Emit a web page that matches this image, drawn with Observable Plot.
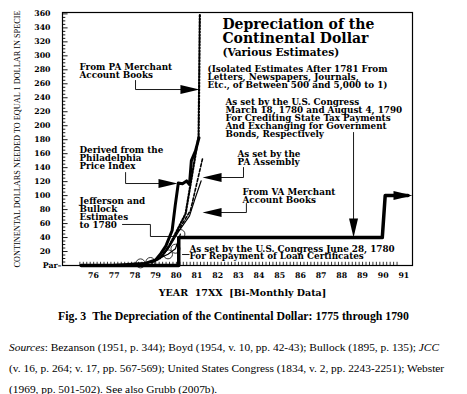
<!DOCTYPE html>
<html><head><meta charset="utf-8">
<script src="https://cdn.jsdelivr.net/npm/d3@7"></script>
<script src="https://cdn.jsdelivr.net/npm/@observablehq/plot@0.6"></script>
<style>
body{margin:0;background:#fff;width:467px;}
#chart svg{display:block;}
#cap{font:bold 11.8px "Liberation Serif";text-align:center;margin-top:9px;line-height:14px;white-space:nowrap;}
#src{font:11.4px "Liberation Serif";line-height:21px;margin:14px 0 0 9px;white-space:nowrap;}
</style></head><body>
<div id="chart"></div>
<div id="cap">Fig. 3&nbsp;&nbsp;The Depreciation of the Continental Dollar: 1775 through 1790</div>
<div id="src"><i>Sources</i>: Bezanson (1951, p. 344); Boyd (1954, v. 10, pp. 42-43); Bullock (1895, p. 135); <i>JCC</i><br>(v. 16, p. 264; v. 17, pp. 567-569); United States Congress (1834, v. 2, pp. 2243-2251); Webster<br>(1969, pp. 501-502). See also Grubb (2007b).</div>
<script>
// ---- data (year, continental dollars per 1 dollar specie) ----
const congressYear = [1775.4, 1780.12, 1780.12, 1789.96, 1790.1, 1791.2];
const congressValue = [0, 0, 40, 40, 100, 100];

const philaYear = [1776.9, 1777.5, 1778.0, 1778.5, 1779.0, 1779.25, 1779.5, 1779.8, 1779.95, 1780.1, 1780.3, 1780.5, 1780.64, 1780.73, 1780.93, 1781.1];
const philaValue = [0, 1, 2, 3, 8, 17, 28, 50, 86, 118, 117, 121, 116, 150, 164, 183];

const paMerchYear = [1778.8, 1779.2, 1779.6, 1780.0, 1780.45, 1781.08, 1781.14];
const paMerchValue = [4, 10, 25, 48, 74, 185, 360];

const paAssemblyYear = [1779.4, 1779.8, 1780.2, 1780.69, 1781.27];
const paAssemblyValue = [18, 35, 55, 79, 153];

const vaMerchYear = [1779.3, 1779.7, 1780.1, 1780.64, 1780.9, 1781.2];
const vaMerchValue = [12, 28, 48, 71, 95, 121];

const jeffYear = [1777.0, 1777.6, 1778.27, 1778.75, 1779.3, 1779.6, 1779.96, 1780.2];
const jeffValue = [0.5, 1, 3, 5, 12, 16, 24, 45];
const jeffCircleYear = [1778.27, 1778.75, 1779.6, 1779.96, 1780.2];
const jeffCircleValue = [3, 5, 16, 24, 45];

// tick labels
const yTickValues = [20, 40, 60, 80, 100, 120, 140, 160, 180, 200, 220, 240, 260, 280, 300, 320, 340, 360];
const xTickYears = [1776, 1777, 1778, 1779, 1780, 1781, 1782, 1783, 1784, 1785, 1786, 1787, 1788, 1789, 1790, 1791];
const xTickLabels = ["76", "77", "78", "79", "80", "81", "82", "83", "84", "85", "86", "87", "88", "89", "90", "91"];

// annotations
const annText = [
  "From PA Merchant\nAccount Books",
  "Derived from the\nPhiladelphia\nPrice Index",
  "Jefferson and\nBullock\nEstimates\nto 1780",
  "As set by the\nPA Assembly",
  "From VA Merchant\nAccount Books",
  "(Isolated Estimates After 1781 From\nLetters, Newspapers, Journals,\nEtc., of Between 500 and 5,000 to 1)",
  "As set by the U.S. Congress\nMarch 18, 1780 and August 4, 1790\nFor Crediting State Tax Payments\nAnd Exchanging for Government\nBonds, Respectively"
];
const annYear = [1775.32, 1775.32, 1775.32, 1782.96, 1783.20, 1781.51, 1782.38];
const annValue = [279, 160.2, 87.3, 154.5, 100.1, 276.1, 228.9];

const congressNoteText = ["As set by the U.S. Congress June 28, 1780", "For Repayment of Loan Certificates"];
const congressNoteYear = [1780.64, 1780.64];
const congressNoteValue = [20, 10];

const titleText = ["Depreciation of the\nContinental Dollar", "(Various Estimates)"];
const titleYear = [1782.23, 1782.23];
const titleValue = [339, 300.4];

// connectors
const connId = ["A","A","A","B","B","B","C","C","C","C","D","D","D","E","E","E","H","H","I","I"];
const connYear = [1778.03,1778.03,1781.0, 1777.55,1777.55,1779.9, 1777.40,1778.75,1778.75,1779.82, 1783.25,1783.25,1781.5, 1783.39,1783.39,1781.5, 1788.57,1788.57, 1780.30,1780.62];
const connValue = [264.7,251.8,251.8, 133,117.3,117.3, 58.7,58.7,41.5,41.5, 140.2,125.9,125.9, 88.7,75.8,75.8, 190.3,45, 15.7,15.7];

// arrowheads (tip location, direction in degrees)
const arrowYear = [1781.12, 1780.06, 1781.27, 1781.27, 1788.57, 1791.42];
const arrowValue = [251.8, 117.3, 125.9, 75.8, 40, 100];
const arrowAngle = [0, 0, 180, 180, 90, 0];

// ---- build ----
const toRows = (xs, ys) => xs.map((x, i) => ({x, y: ys[i]}));
const head = {draw(ctx) { ctx.moveTo(0, 0); ctx.lineTo(-19, -4.5); ctx.lineTo(-19, 4.5); ctx.closePath(); }};
const fs = 8.8;
const bimonthly = d3.range(1775.34, 1790.8, 1/6);
const minorY = d3.range(5, 361, 5);

const xMin = 1774.5, xMax = 1791.42;
const chart = Plot.plot({
  width: 467, height: 300,
  marginLeft: 62, marginRight: 55, marginTop: 12, marginBottom: 35,
  style: {fontFamily: "DejaVu Serif", fontWeight: "bold", background: "white", color: "black"},
  x: {domain: [xMin, xMax]},
  y: {domain: [0, 362]},
  marks: [
    Plot.frame({stroke: "black", strokeWidth: 1.2}),
    // minor ticks
    Plot.ruleY(minorY, {x1: xMin, x2: d => xMin + (d % 20 === 0 ? 0.27 : 0.16), stroke: "black", strokeWidth: 0.9}),
    Plot.ruleX(bimonthly, {y1: 0, y2: 4.6, stroke: "black", strokeWidth: 0.8}),
    // axes
    Plot.axisY(yTickValues, {anchor: "left", tickSize: 0, tickPadding: 12, fontSize: 7.8, fontWeight: "bold", label: null}),
    Plot.text(["Par–"], {x: xMin, y: 0, textAnchor: "end", dx: -1, fontSize: 7.8, fontWeight: "bold"}),
    Plot.axisX(xTickYears, {anchor: "bottom", tickSize: 0, tickPadding: 7, fontSize: 7.8, fontWeight: "bold", tickFormat: (d, i) => xTickLabels[i], label: null}),
    Plot.text(["CONTINENTAL DOLLARS NEEDED TO EQUAL 1 DOLLAR IN SPECIE"], {frameAnchor: "bottom-left", dx: -43, dy: 2, rotate: -90, textAnchor: "start", lineAnchor: "bottom", fontFamily: "Liberation Serif", fontWeight: "normal", fontSize: 9}),
    Plot.text(["YEAR  17XX  [Bi-Monthly Data]"], {frameAnchor: "bottom", dx: 5, dy: 30, lineAnchor: "bottom", fontSize: 9.5}),
    // series
    Plot.line(toRows(jeffYear, jeffValue), {x: "x", y: "y", stroke: "black", strokeWidth: 1.2}),
    Plot.dot(toRows(jeffCircleYear, jeffCircleValue), {x: "x", y: "y", r: 4.5, stroke: "black", strokeWidth: 0.8, fill: "none"}),
    Plot.line(toRows(vaMerchYear, vaMerchValue), {x: "x", y: "y", stroke: "black", strokeWidth: 1.2}),
    Plot.line(toRows(paAssemblyYear, paAssemblyValue), {x: "x", y: "y", stroke: "black", strokeWidth: 1.6, strokeDasharray: "3,2"}),
    Plot.line(toRows(paMerchYear, paMerchValue), {x: "x", y: "y", stroke: "black", strokeWidth: 2.2, strokeDasharray: "1.6,1.6"}),
    Plot.line(toRows(philaYear, philaValue), {x: "x", y: "y", stroke: "black", strokeWidth: 3}),
    Plot.line(toRows(congressYear, congressValue), {x: "x", y: "y", stroke: "black", strokeWidth: 3.5}),
    // connectors and arrowheads
    Plot.line(connYear.map((x, i) => ({x, y: connValue[i], id: connId[i]})), {x: "x", y: "y", z: "id", stroke: "black", strokeWidth: 0.9}),
    Plot.dot(arrowYear.map((x, i) => ({x, y: arrowValue[i], a: arrowAngle[i]})), {x: "x", y: "y", rotate: "a", symbol: head, fill: "black", stroke: "none", r: 5}),
    // annotation text
    Plot.text(annText.map((t, i) => ({t, x: annYear[i], y: annValue[i]})), {x: "x", y: "y", text: "t", textAnchor: "start", lineAnchor: "top", dy: -0.71 * fs, fontSize: fs, lineHeight: 8 / fs}),
    Plot.text(congressNoteText.map((t, i) => ({t, x: congressNoteYear[i], y: congressNoteValue[i]})), {x: "x", y: "y", text: "t", textAnchor: "start", lineAnchor: "bottom", fontSize: fs}),
    Plot.text([{t: titleText[0], x: titleYear[0], y: titleValue[0]}], {x: "x", y: "y", text: "t", textAnchor: "start", lineAnchor: "top", dy: -0.71 * 14, fontSize: 14, lineHeight: 14 / 14}),
    Plot.text([{t: titleText[1], x: titleYear[1], y: titleValue[1]}], {x: "x", y: "y", text: "t", textAnchor: "start", lineAnchor: "bottom", fontSize: 10.6})
  ]
});
document.getElementById("chart").appendChild(chart);
chart.querySelectorAll("text").forEach(t => {
  if (t.textContent.startsWith("CONTINENTAL")) { t.setAttribute("textLength", 257); t.setAttribute("lengthAdjust", "spacingAndGlyphs"); }
});
</script>
</body></html>
